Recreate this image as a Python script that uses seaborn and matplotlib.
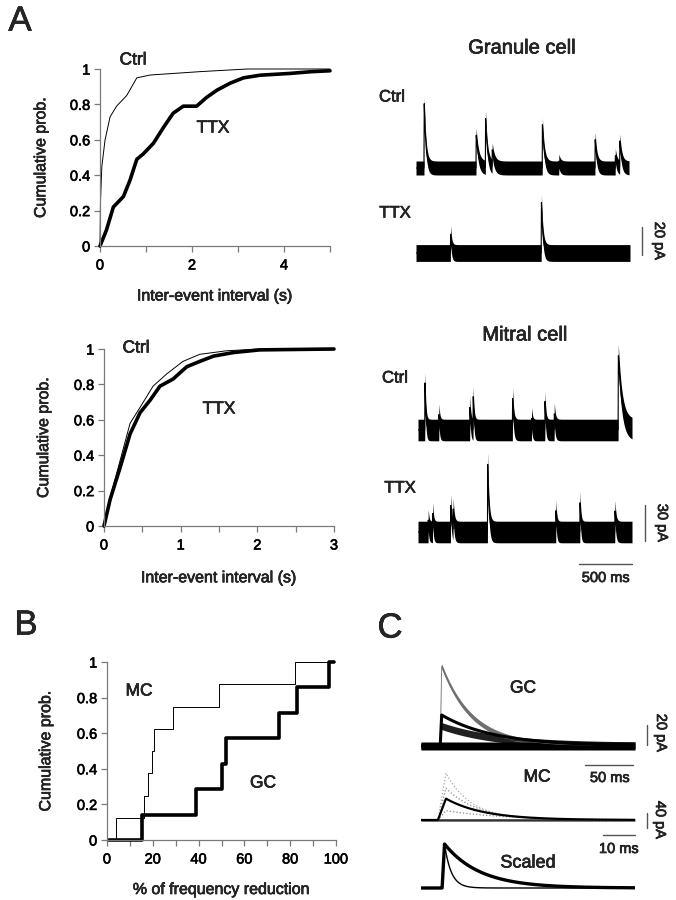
import numpy as np
import pandas as pd
import matplotlib
matplotlib.use("Agg")
import matplotlib.pyplot as plt
from matplotlib.lines import Line2D
import matplotlib.patheffects as pe
import seaborn as sns

# ---------------- data ----------------
# Panel A (granule cell) cumulative inter-event interval distributions
gc_ctrl_x = [0, 0.01, 0.04, 0.11, 0.22, 0.36, 0.58, 0.80, 1.09, 2.17, 3.2, 5.0]
gc_ctrl_y = [0, 0.25, 0.45, 0.60, 0.73, 0.79, 0.85, 0.95, 0.966, 0.985, 1.0, 1.0]
gc_ttx_x = [0, 0.14, 0.29, 0.51, 0.65, 0.80, 0.94, 1.16, 1.38, 1.59, 1.81, 2.10,
            2.32, 2.54, 2.83, 3.12, 3.48, 4.13, 4.60, 5.0]
gc_ttx_y = [0, 0.09, 0.22, 0.28, 0.37, 0.49, 0.52, 0.58, 0.67, 0.75, 0.79, 0.79,
            0.84, 0.88, 0.92, 0.95, 0.965, 0.975, 0.985, 0.99]
# Panel A (mitral cell)
mc_ctrl_x = [0, 0.08, 0.21, 0.34, 0.47, 0.64, 0.82, 1.03, 1.25, 1.60, 2.03, 3.0]
mc_ctrl_y = [0, 0.16, 0.37, 0.58, 0.67, 0.79, 0.86, 0.93, 0.97, 0.99, 1.0, 1.0]
mc_ttx_x = [0, 0.08, 0.21, 0.34, 0.47, 0.60, 0.73, 0.90, 1.08, 1.25, 1.43, 1.69, 2.03, 3.0]
mc_ttx_y = [0, 0.15, 0.33, 0.52, 0.64, 0.71, 0.79, 0.83, 0.90, 0.93, 0.96, 0.98, 0.995, 1.0]

# Panel B: % frequency reduction per cell
b_mc = [4, 16, 18, 19.5, 20.5, 29, 49, 82]
b_gc = [15.5, 39, 50, 52, 75, 83, 97]

# Traces: events as (onset ms, amplitude pA, decay tau ms)
gran_ctrl_events = [(75, 47, 16), (563, 24, 22), (651, 36, 18), (714, 12, 22),
                    (1185, 31, 18), (1340, 5, 15), (1680, 21, 16), (1870, 9, 15),
                    (1912, 19, 18)]
gran_ttx_events = [(321, 14, 10), (1170, 37, 14)]
mit_ctrl_events = [(63, 41, 8), (194, 13, 8), (483, 20, 8), (514, 28, 8),
                   (882, 27, 10), (1060, 10, 8), (1185, 24, 8), (1272, 14, 10),
                   (1870, 63, 35)]
mit_ttx_events = [(94, 10, 8), (135, 16, 8), (303, 23, 10), (327, 18, 10),
                  (649, 59, 12), (1287, 18, 8), (1512, 26, 8), (1839, 18, 10)]

# Panel C: averaged / individual events (onset ms, amplitude pA, tau ms)
c_gc_big = [(20, 80, 32)]
c_gc_mean = [(20, 31, 55)]
c_gc_small = [(20, 20, 60)]
c_mc_dot1 = [(5.3, 125, 8)]
c_mc_dot2 = [(5.3, 85, 10)]
c_mc_mean = [(5.3, 57, 12)]
c_mc_dot3 = [(5.3, 25, 18)]
c_scaled_gc = [(22, 1.0, 37)]
c_scaled_mc = [(22, 1.0, 7)]

# ---------------- setup ----------------
sns.set_theme(style="ticks")
plt.rcParams["font.family"] = ["Liberation Sans", "DejaVu Sans"]
W, H = 676, 900
fig = plt.figure(figsize=(W / 100, H / 100), dpi=100)
fig.patch.set_facecolor("white")

SPINE = "#7a7a7a"
HEAVY = [pe.withStroke(linewidth=0.45, foreground="black")]


def add_ax(left, top, right, bottom):
    return fig.add_axes([left / W, 1 - bottom / H, (right - left) / W, (bottom - top) / H])


def ftext(x, y, s, size=12, **kw):
    fig.text(x / W, 1 - y / H, s, fontsize=size, ha=kw.pop("ha", "center"),
             va=kw.pop("va", "center"), path_effects=HEAVY, **kw)


def style_cdf(ax, xmax, major, minor):
    ax.set_xlim(0, xmax)
    ax.set_ylim(0, 1)
    sns.despine(ax=ax)
    for s in ("left", "bottom"):
        ax.spines[s].set_color(SPINE)
        ax.spines[s].set_linewidth(0.9)
    ax.set_yticks([0, 0.2, 0.4, 0.6, 0.8, 1.0])
    ax.set_yticklabels(["0", "0.2", "0.4", "0.6", "0.8", "1"])
    ax.set_xticks(major)
    ax.set_xticklabels([f"{m:g}" for m in major])
    ax.set_xticks(minor, minor=True)
    ax.tick_params(axis="both", which="both", direction="out", length=4, width=0.9,
                   color=SPINE, labelsize=10.5, pad=3, labelcolor="black")
    ax.tick_params(axis="x", which="major", pad=5)
    ax.set_facecolor("white")
    ax.set_ylabel("Cumulative prob.", fontsize=11.5, path_effects=HEAVY)
    for lab in ax.get_xticklabels() + ax.get_yticklabels():
        lab.set_path_effects(HEAVY)


def cdf_line(ax, x, y, lw):
    df = pd.DataFrame({"x": x, "y": y})
    sns.lineplot(data=df, x="x", y="y", ax=ax, color="black", lw=lw,
                 sort=False, estimator=None, clip_on=False)


# ---------------- Panel A top ----------------
ax1 = add_ax(100, 69, 330, 246)
style_cdf(ax1, 5, [0, 2, 4], [1, 3, 5])
cdf_line(ax1, gc_ctrl_x, gc_ctrl_y, 0.7)
cdf_line(ax1, gc_ttx_x, gc_ttx_y, 2.6)
ax1.set_xlabel("Inter-event interval (s)", fontsize=11.5, path_effects=HEAVY)
ax1.set_ylabel("Cumulative prob.", fontsize=11.5, path_effects=HEAVY)
ax1.xaxis.set_label_coords(0.5, -0.24)
ax1.yaxis.set_label_coords(-0.225, 0.5)

# ---------------- Panel A bottom ----------------
ax2 = add_ax(104, 349, 334, 526)
style_cdf(ax2, 3, [0, 1, 2, 3], [0.5, 1.5, 2.5])
cdf_line(ax2, mc_ctrl_x, mc_ctrl_y, 0.7)
cdf_line(ax2, mc_ttx_x, mc_ttx_y, 2.6)
ax2.set_xlabel("Inter-event interval (s)", fontsize=11.5, path_effects=HEAVY)
ax2.set_ylabel("Cumulative prob.", fontsize=11.5, path_effects=HEAVY)
ax2.xaxis.set_label_coords(0.5, -0.25)
ax2.yaxis.set_label_coords(-0.23, 0.5)

# ---------------- Panel B ----------------
ax3 = add_ax(107, 662, 336, 840)
style_cdf(ax3, 100, [0, 20, 40, 60, 80, 100], [10, 30, 50, 70, 90])


def step_cdf(ax, vals, lw, xend):
    n = len(vals)
    xs = [1] + list(vals) + [xend]
    ys = [0] + [(i + 1) / n for i in range(n)] + [1.0]
    df = pd.DataFrame({"x": xs, "y": ys})
    sns.lineplot(data=df, x="x", y="y", ax=ax, color="black", lw=lw, sort=False,
                 estimator=None, drawstyle="steps-post", clip_on=False)


step_cdf(ax3, b_mc, 0.7, 97)
step_cdf(ax3, b_gc, 2.6, 99)
ax3.set_xlabel("% of frequency reduction", fontsize=11.5, path_effects=HEAVY)
ax3.set_ylabel("Cumulative prob.", fontsize=11.5, path_effects=HEAVY)
ax3.xaxis.set_label_coords(0.5, -0.236)
ax3.yaxis.set_label_coords(-0.235, 0.5)

# ---------------- traces ----------------
def wave(t, events, rise):
    y = np.zeros_like(t, dtype=float)
    for t0, amp, tau in events:
        d = t - t0
        up = (d >= 0) & (d < rise)
        y[up] += amp * d[up] / rise
        dn = d >= rise
        y[dn] += amp * np.exp(-(d[dn] - rise) / tau)
    return y


def trace_ax(l, r, base, k, lo, hi, T):
    ax = add_ax(l, base - hi * k, r, base - lo * k)
    ax.set_xlim(0, T)
    ax.set_ylim(lo, hi)
    ax.axis("off")
    return ax


def draw_trace(ax, T, events, rise, hw, color="black", lw=0.8, n=3000, band=True, ls="-"):
    t = np.linspace(0, T, n)
    y = wave(t, events, rise)
    if band and hw > 0:
        ax.fill_between(t, y - hw, y + hw, color=color, lw=0)
    df = pd.DataFrame({"t": t, "y": y})
    sns.lineplot(data=df, x="t", y="y", ax=ax, color=color, lw=lw, sort=False,
                 estimator=None, ls=ls)


def vbar(x, ybottom, length_px, color="#555555"):
    fig.add_artist(Line2D([x / W, x / W], [1 - ybottom / H, 1 - (ybottom - length_px) / H],
                          color=color, lw=1.0))


def hbar(xright, y, length_px, color="#555555"):
    fig.add_artist(Line2D([(xright - length_px) / W, xright / W], [1 - y / H, 1 - y / H],
                          color=color, lw=1.0))


# Granule cell traces (2000 ms, 1.4 px/pA)
kg = 1.4
axg1 = trace_ax(416, 629, 168, kg, -15, 60, 2000)
draw_trace(axg1, 2000, gran_ctrl_events, 2.0, 5.0)
axg2 = trace_ax(416, 630, 253, kg, -15, 50, 2000)
draw_trace(axg2, 2000, gran_ttx_events, 2.0, 6.0)
vbar(642, 255, 20 * kg)
ftext(659, 241, "20 pA", 10.5, rotation=270)

# Mitral cell traces (2000 ms, 1.2 px/pA)
km = 1.2
axm1 = trace_ax(418, 632, 430, km, -20, 80, 2000)
draw_trace(axm1, 2000, mit_ctrl_events, 2.0, 9.0)
axm2 = trace_ax(418, 632, 532, km, -20, 80, 2000)
draw_trace(axm2, 2000, mit_ttx_events, 2.0, 9.0)
vbar(645, 541, 30 * km)
ftext(662, 523, "30 pA", 10.5, rotation=270)
hbar(632, 564, 500 * 214 / 2000)
ftext(606, 578, "500 ms", 10.5)

# Panel C: GC (223 ms, 1.0 px/pA)
kc = 1.0
TG = 223
axc1 = trace_ax(421, 635, 746, kc, -10, 90, TG)
draw_trace(axc1, TG, c_gc_small, 1.5, 3.5, color="#202020", lw=0.8)
draw_trace(axc1, TG, c_gc_big, 1.5, 2.5, color="#707070", lw=0.6)
draw_trace(axc1, TG, [(20, 0, 10)], 1.5, 4.0, color="black", lw=0.8)
draw_trace(axc1, TG, c_gc_mean, 1.5, 0, color="black", lw=2.2, band=False)
vbar(647, 745, 20 * kc)
ftext(661, 733, "20 pA", 10.5, rotation=270)
hbar(633, 765, 50 * 214 / TG)
ftext(610, 778, "50 ms", 10.5)

# Panel C: MC (67 ms, 0.375 px/pA)
kmc = 0.375
TM = 67
axc2 = trace_ax(421, 635, 820, kmc, -20, 140, TM)
draw_trace(axc2, TM, c_mc_dot1, 2.5, 0, color="#a8a8a8", lw=0.9, band=False, ls=":")
draw_trace(axc2, TM, c_mc_dot2, 2.5, 0, color="#8a8a8a", lw=0.9, band=False, ls=":")
draw_trace(axc2, TM, c_mc_dot3, 2.5, 0, color="#8a8a8a", lw=0.9, band=False, ls=":")
draw_trace(axc2, TM, [(5.3, 0, 5)], 2.5, 3.0, color="#303030", lw=0.6)
draw_trace(axc2, TM, c_mc_mean, 2.5, 0, color="black", lw=1.6, band=False)
vbar(647, 828, 40 * kmc)
ftext(660, 820, "40 pA", 10.5, rotation=270)
hbar(635, 835, 10 * 214 / TM)
ftext(619, 849, "10 ms", 10.5)

# Panel C: scaled (normalised, 44 px per unit)
ks = 44
axc3 = trace_ax(421, 635, 888, ks, -0.1, 1.1, TG)
draw_trace(axc3, TG, c_scaled_mc, 2.5, 0, color="black", lw=1.0, band=False)
draw_trace(axc3, TG, c_scaled_gc, 2.5, 0, color="black", lw=2.4, band=False)

# ---------------- text ----------------
ftext(20, 21, "A", 25)
ftext(26, 625, "B", 25)
ftext(390, 628, "C", 25)

ftext(133, 60, "Ctrl", 12.5)
ftext(213, 128, "TTX", 12.5)
ftext(136, 348, "Ctrl", 12.5)
ftext(219, 409, "TTX", 12.5)
ftext(139, 691, "MC", 12.5)
ftext(263, 783, "GC", 12.5)

ftext(522, 48, "Granule cell", 14.5)
ftext(392, 97, "Ctrl", 12)
ftext(395, 213, "TTX", 12)
ftext(525, 335, "Mitral cell", 14.5)
ftext(395, 378, "Ctrl", 12)
ftext(400, 488, "TTX", 12)
ftext(523, 688, "GC", 12.5)
ftext(537, 777, "MC", 12.5)
ftext(528, 863, "Scaled", 13)

fig.savefig("out.png", dpi=100, facecolor="white")
